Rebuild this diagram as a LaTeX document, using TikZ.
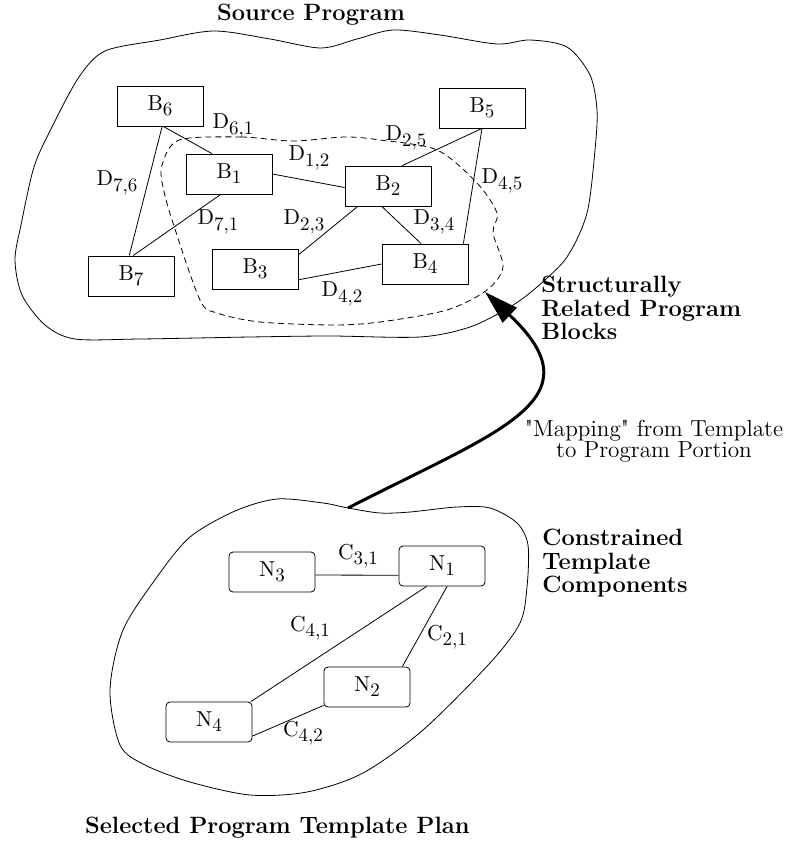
\documentclass[tikz,border=0pt]{standalone}
\usepackage{tikz}
\usetikzlibrary{arrows.meta}

\newcommand{\sublbl}[2]{#1\raisebox{-0.55ex}{\fontsize{9.5}{11}\selectfont #2}}

\tikzset{
  blk/.style={draw, thin, minimum width=43pt, minimum height=20pt, inner sep=0pt, font=\fontsize{10.8}{12}\selectfont},
  cmp/.style={blk, rounded corners=2pt},
  dep/.style={inner sep=0pt, font=\fontsize{10.8}{12}\selectfont},
  ttl/.style={inner sep=0pt, font=\bfseries\fontsize{11.8}{11.75}\selectfont, align=left},
  region/.style={thin, line join=round},
}

\begin{document}
\begin{tikzpicture}[x=0.5pt, y=-0.5pt]
  \useasboundingbox (0,0) rectangle (796,844);

    % Regions

    \draw[region] plot[smooth cycle] coordinates {(105,51) (160,40) (214,31) (270,39) (321,48) (357,39) (393,30) (440,35) (497,44) (530,40) (567,47) (590,75) (597,110) (595,150) (587,213) (567,257) (537,287) (510,307) (470,327) (420,337) (330,336) (250,337) (140,339) (75,339) (45,325) (22,295) (15,260) (21,225) (34,167) (52,127) (79,77)}; %
    \draw[region, dash pattern=on 3pt off 2pt] plot[smooth cycle] coordinates {(179,140) (241,137) (293,141) (345,137) (380,140) (437,150) (477,183) (497,213) (493,233) (503,267) (487,290) (447,310) (380,322) (333,325) (260,322) (217,313) (200,300) (173,223) (163,187) (162,165)}; %
    \draw[region] plot[smooth cycle] coordinates {(277,499) (323,503) (348,508) (380,513) (410,512) (457,507) (490,508) (517,523) (528,545) (527,587) (520,623) (490,663) (423,730) (363,773) (307,792) (250,795) (190,782) (145,765) (120,745) (110,690) (123,630) (157,577) (190,537) (235,511)}; %

    % Define nodes

    \node[blk] (B6) at (160,106) {\sublbl{B}{6}}; %
    \node[blk] (B1) at (229,174) {\sublbl{B}{1}}; %
    \node[blk] (B2) at (388,186) {\sublbl{B}{2}}; %
    \node[blk] (B5) at (482,108) {\sublbl{B}{5}}; %
    \node[blk] (B7) at (131,276) {\sublbl{B}{7}}; %
    \node[blk] (B3) at (255,269) {\sublbl{B}{3}}; %
    \node[blk] (B4) at (425,264) {\sublbl{B}{4}}; %

    \node[cmp] (N3) at (272,572) {\sublbl{N}{3}}; %
    \node[cmp] (N1) at (442,566) {\sublbl{N}{1}}; %
    \node[cmp] (N2) at (367,687) {\sublbl{N}{2}}; %
    \node[cmp] (N4) at (209,722) {\sublbl{N}{4}}; %

    % labels

    \node[dep] (d61) at (233,126) {\sublbl{D}{6,1}}; %
    \node[dep] (d12) at (309,158) {\sublbl{D}{1,2}}; %
    \node[dep] (d25) at (406,138) {\sublbl{D}{2,5}}; %
    \node[dep] (d76) at (117,183) {\sublbl{D}{7,6}}; %
    \node[dep] (d71) at (218,222) {\sublbl{D}{7,1}}; %
    \node[dep] (d23) at (304,222) {\sublbl{D}{2,3}}; %
    \node[dep] (d34) at (434,222) {\sublbl{D}{3,4}}; %
    \node[dep] (d45) at (502,181) {\sublbl{D}{4,5}}; %
    \node[dep] (d42) at (342,294) {\sublbl{D}{4,2}}; %

    \node[dep] (c31) at (358,556) {\sublbl{C}{3,1}}; %
    \node[dep] (c41) at (310,628) {\sublbl{C}{4,1}}; %
    \node[dep] (c21) at (447,637) {\sublbl{C}{2,1}}; %
    \node[dep] (c42) at (303,733) {\sublbl{C}{4,2}}; %

    \node[ttl, anchor=base] (src) at (311,21) {Source Program}; %
    \node[ttl, anchor=north west] (srb) at (541,276) {Structurally\\Related Program\\Blocks}; %
    \node[ttl, anchor=north west] (ctc) at (542,529) {Constrained\\Template\\Components}; %
    \node[ttl, anchor=base east] (spt) at (470,833) {Selected Program Template Plan}; %
    \node[inner sep=0pt, align=center, font=\fontsize{11.6}{10.5}\selectfont] (map) at (654,441) {\textquotedbl Mapping\textquotedbl\ from Template\\to Program Portion}; %

    % Connect the nodes

    \draw (B6.-81) -- (B1.130); %
    \draw (B6.-84) -- (B7.95); %
    \draw (B7.84) -- (B1.-112); %
    \draw (B1.east) -- (B2.182); %
    \draw (B2.-146) -- (B3.18); %
    \draw (B2.-107) -- (B4.101); %
    \draw (B3.-14) -- (B4.west); %
    \draw (B2.55) -- (B5.south); %
    \draw (B5.south) -- (B4.28); %

    \draw (N3.-4) -- (N1.192); %
    \draw (N1.-127) -- (N4.26); %
    \draw (N1.-76) -- (N2.30); %
    \draw (N2.-157) -- (N4.-18); %

    % Mapping
    \coordinate (mapfrom) at (348,508); %
    \coordinate (mapto) at (485,292); %
    \draw[line width=1.5pt, -{Triangle[length=17pt, width=10pt]}] (mapfrom) .. controls (500,430) and (600,400) .. (mapto); %

\end{tikzpicture}
\end{document}
